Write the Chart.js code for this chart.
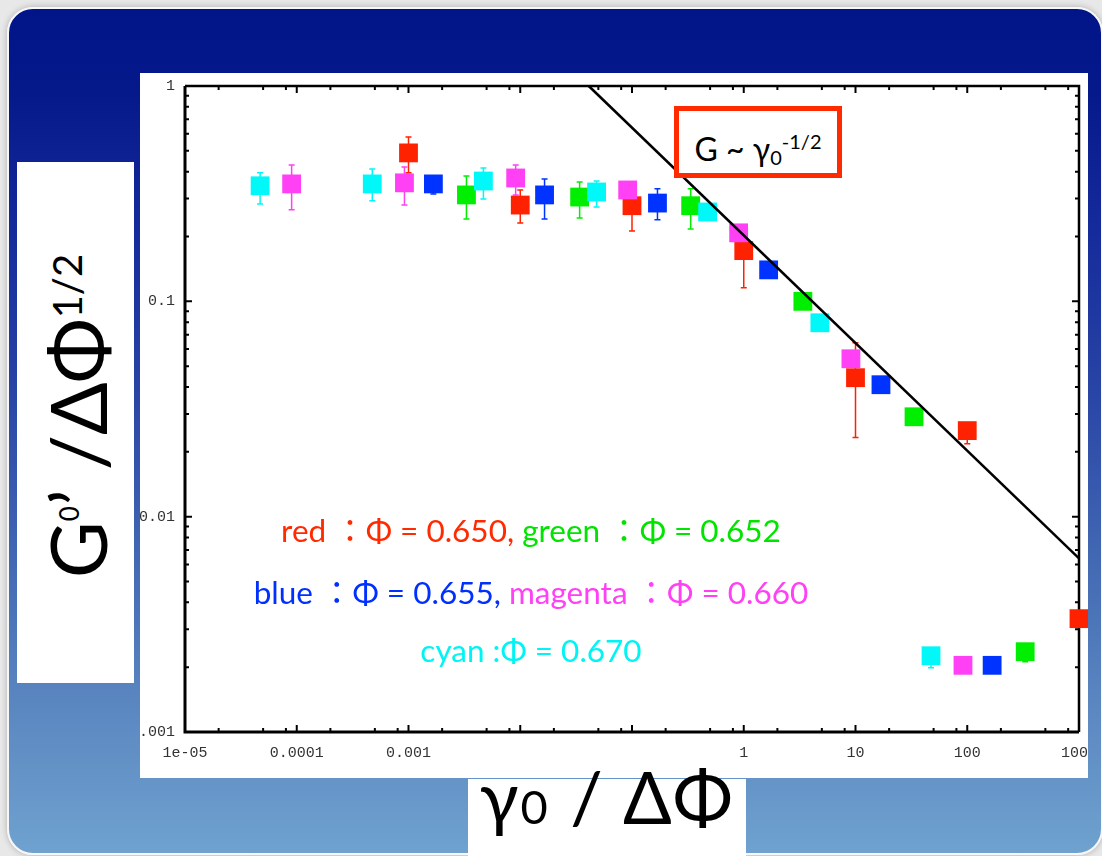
<!DOCTYPE html>
<html>
<head>
<meta charset="utf-8">
<script src="https://cdn.jsdelivr.net/npm/chart.js@4.4.0/dist/chart.umd.min.js"></script>
<style>
  html, body { margin: 0; padding: 0; }
  body {
    width: 1102px; height: 856px; position: relative; overflow: hidden;
    background: #e8e8e8;
    font-family: Lato, "Noto Sans", "Noto Sans CJK JP", sans-serif;
  }
  #slide {
    position: absolute; left: 7px; top: 7px; width: 1096px; height: 848px;
    box-sizing: border-box; border: 2px solid #f7f7f7; border-radius: 26px;
    background: linear-gradient(to bottom, #011488 0%, #06198b 10%, #14299a 25%, #2844a5 45%, #4268b3 65%, #5a86c0 82%, #6fa2cf 100%);
    box-shadow: 0 0 6px rgba(0,0,0,0.25);
  }
  #panel {
    position: absolute; left: 140px; top: 73px; width: 948px; height: 705px;
    background: #fff; overflow: hidden;
  }
  #ybox { position: absolute; left: 17px; top: 162px; width: 117px; height: 521px; background: #fff; }
  #xbox { position: absolute; left: 468px; top: 779px; width: 278px; height: 80px; background: #fff; }
  .lab { position: absolute; white-space: nowrap; color: #000; }
  #ylab {
    left: -133px; top: 377px; width: 400px; height: 78px; line-height: 78px;
    font-size: 78px; text-align: center; transform: rotate(-90deg);
  }
  #xlab {
    left: 407px; top: 760px; width: 400px; height: 72px; line-height: 72px;
    font-size: 72px; letter-spacing: 2px; text-align: center;
  }
  #fitbox {
    position: absolute; left: 674px; top: 106px; width: 168px; height: 72px;
    box-sizing: border-box; border: 5px solid #ff2a00; background: #fff;
  }
  #fitlab {
    left: 674px; top: 126px; width: 168px; line-height: 31px; font-size: 32px; text-align: center;
  }
  .note {
    position: absolute; left: 131px; width: 800px; text-align: center;
    font-size: 31.5px; line-height: 31px; white-space: nowrap;
  }
</style>
</head>
<body>
<div id="slide"></div>
<div id="ybox"></div>
<div id="xbox"></div>
<div id="panel"><canvas id="chart" width="948" height="705"></canvas></div>

<div id="ylab" class="lab">G<span style="font-size:26px;vertical-align:28px">0</span>’ /ΔΦ<span style="font-size:40px;vertical-align:25px">1/2</span></div>
<div id="xlab" class="lab">γ<span style="font-size:47px">0</span> / ΔΦ</div>

<div id="fitbox"></div>
<div id="fitlab" class="lab">G ~ γ<span style="font-size:20px;vertical-align:-4px">0</span><span style="font-size:20px;vertical-align:12px">-1/2</span></div>

<div class="note" style="top:515px">
  <span style="color:#ff2a00">red ：Φ = 0.650,</span><span style="color:#00e400"> green ：Φ = 0.652</span>
</div>
<div class="note" style="top:577px">
  <span style="color:#0030ff">blue ：Φ = 0.655,</span><span style="color:#ff40f4"> magenta ：Φ = 0.660</span>
</div>
<div class="note" style="top:635px">
  <span style="color:#00f4f4">cyan :Φ = 0.670</span>
</div>

<script>
// axis ticks
const xTicks = [1e-5, 1e-4, 1e-3, 1e-2, 1e-1, 1, 10, 100, 1000];
const xTickLabels = ['1e-05', '0.0001', '0.001', '', '', '1', '10', '100', '1000'];
const yTicks = [0.001, 0.01, 0.1, 1];
const yTickLabels = ['0.001', '0.01', '0.1', '1'];

// red : phi = 0.650
const redX = [0.001, 0.01, 0.1, 1, 10, 100, 1000];
const redY = [0.489, 0.280, 0.278, 0.172, 0.0442, 0.0251, 0.00336];
const redErr = [[0.395, 0.580], [0.231, 0.329], [0.212, 0.300], [0.1155, 0.19], [0.0233, 0.0642], [0.0218, 0.027], null];

// green : phi = 0.652
const greenX = [0.0033, 0.034, 0.335, 3.38, 33.4, 330];
const greenY = [0.312, 0.305, 0.278, 0.100, 0.0291, 0.00236];
const greenErr = [[0.241, 0.382], [0.244, 0.358], [0.217, 0.333], null, null, [0.00212, 0.0025]];

// blue : phi = 0.655
const blueX = [0.00167, 0.0165, 0.169, 1.67, 16.9, 167];
const blueY = [0.351, 0.312, 0.286, 0.140, 0.041, 0.00204];
const blueErr = [[0.315, 0.36], [0.241, 0.370], [0.239, 0.333], null, null, null];

// magenta : phi = 0.660
const magentaX = [9e-5, 9.2e-4, 0.0091, 0.0915, 0.90, 9.1, 91.6];
const magentaY = [0.351, 0.355, 0.374, 0.329, 0.208, 0.0541, 0.00204];
const magentaErr = [[0.266, 0.430], [0.280, 0.421], [0.312, 0.430], null, [0.185, 0.22], null, null];

// cyan : phi = 0.670
const cyanX = [4.7e-5, 4.74e-4, 4.68e-3, 0.0482, 0.475, 4.80, 47.4];
const cyanY = [0.344, 0.351, 0.362, 0.322, 0.260, 0.0795, 0.00226];
const cyanErr = [[0.283, 0.395], [0.293, 0.412], [0.299, 0.416], [0.274, 0.362], null, null, [0.00199, 0.0024]];

// G ~ gamma^-1/2 guide line, end points
const fitX = [0.041, 1000];
const fitY = [1, 0.0064];

function pts(xs, ys) {
  return xs.map((x, i) => ({ x: x, y: ys[i] }));
}

function series(label, color, xs, ys, errs, order) {
  return {
    label: label,
    data: pts(xs, ys),
    errors: errs,
    backgroundColor: color,
    borderColor: color,
    pointStyle: 'rect',
    pointRadius: 13.3,
    pointBorderWidth: 0,
    showLine: false,
    clip: false,
    order: order
  };
}

const tickFont = { family: '"Liberation Mono", "DejaVu Sans Mono", monospace', size: 15 };

// frame with inward ticks on all four sides, x labels, error bars under the markers
const frameAndErrors = {
  id: 'frameAndErrors',
  beforeDatasetsDraw(chart) {
    const ctx = chart.ctx;
    const a = chart.chartArea;
    const sx = chart.scales.x, sy = chart.scales.y;
    ctx.save();

    chart.data.datasets.forEach(ds => {
      if (!ds.errors) return;
      ctx.strokeStyle = ds.borderColor;
      ctx.lineWidth = 1.5;
      ds.data.forEach((p, i) => {
        const e = ds.errors[i];
        if (!e) return;
        const px = sx.getPixelForValue(p.x);
        const lo = sy.getPixelForValue(e[0]);
        const hi = sy.getPixelForValue(e[1]);
        ctx.beginPath();
        ctx.moveTo(px, lo); ctx.lineTo(px, hi);
        ctx.moveTo(px - 3, lo); ctx.lineTo(px + 3, lo);
        ctx.moveTo(px - 3, hi); ctx.lineTo(px + 3, hi);
        ctx.stroke();
      });
    });

    ctx.strokeStyle = '#000';
    ctx.lineWidth = 2;
    ctx.beginPath();
    xTicks.forEach(v => {
      [1, 2, 5, 8].forEach(m => {
        const val = v * m;
        if (val > 1000) return;
        const px = sx.getPixelForValue(val);
        const len = m === 1 ? 7 : 4;
        ctx.moveTo(px, a.bottom); ctx.lineTo(px, a.bottom - len);
        ctx.moveTo(px, a.top); ctx.lineTo(px, a.top + len);
      });
    });
    yTicks.forEach(v => {
      [1, 2, 3, 4, 5, 6, 7, 8, 9].forEach(m => {
        const val = v * m;
        if (val > 1) return;
        const py = sy.getPixelForValue(val);
        const len = m === 1 ? 7 : 4;
        ctx.moveTo(a.left, py); ctx.lineTo(a.left + len, py);
        ctx.moveTo(a.right, py); ctx.lineTo(a.right - len, py);
      });
    });
    ctx.stroke();

    ctx.lineWidth = 3;
    ctx.beginPath();
    ctx.moveTo(a.left, a.top); ctx.lineTo(a.left, a.bottom); ctx.lineTo(a.right, a.bottom);
    ctx.stroke();
    ctx.lineWidth = 2.5;
    ctx.beginPath();
    ctx.moveTo(a.left, a.top); ctx.lineTo(a.right, a.top); ctx.lineTo(a.right, a.bottom);
    ctx.stroke();

    // x tick labels, the last one runs off the panel edge
    ctx.fillStyle = '#333';
    ctx.font = tickFont.size + 'px ' + tickFont.family;
    ctx.textAlign = 'center';
    ctx.textBaseline = 'middle';
    xTicks.forEach((v, i) => {
      if (xTickLabels[i]) ctx.fillText(xTickLabels[i], sx.getPixelForValue(v), a.bottom + 21);
    });
    ctx.restore();
  }
};

new Chart(document.getElementById('chart').getContext('2d'), {
  type: 'scatter',
  data: {
    datasets: [
      {
        label: 'fit',
        data: pts(fitX, fitY),
        showLine: true,
        borderColor: '#000',
        borderWidth: 2.5,
        pointRadius: 0,
        clip: false,
        order: 0
      },
      series('magenta', '#ff40f4', magentaX, magentaY, magentaErr, 1),
      series('cyan', '#00f8f8', cyanX, cyanY, cyanErr, 2),
      series('blue', '#0033ff', blueX, blueY, blueErr, 3),
      series('green', '#00ee00', greenX, greenY, greenErr, 4),
      series('red', '#ff2200', redX, redY, redErr, 5)
    ]
  },
  options: {
    responsive: false,
    animation: false,
    events: [],
    layout: { autoPadding: false, padding: { top: 13, right: 9, left: 0, bottom: 0 } },
    plugins: { legend: { display: false }, tooltip: { enabled: false } },
    scales: {
      x: {
        type: 'logarithmic',
        min: 1e-5, max: 1000,
        grid: { display: false, drawTicks: false },
        border: { display: false },
        afterBuildTicks: s => { s.ticks = xTicks.map(v => ({ value: v })); },
        afterFit: s => { s.height = 46; },
        ticks: { display: false }
      },
      y: {
        type: 'logarithmic',
        min: 0.001, max: 1,
        grid: { display: false, drawTicks: false },
        border: { display: false },
        afterBuildTicks: s => { s.ticks = yTicks.map(v => ({ value: v })); },
        afterFit: s => { s.width = 45; s.paddingTop = 0; s.paddingBottom = 0; },
        ticks: {
          autoSkip: false, padding: 10, color: '#333', font: tickFont,
          callback: (v, i) => yTickLabels[i]
        }
      }
    }
  },
  plugins: [frameAndErrors]
});
</script>
</body>
</html>
